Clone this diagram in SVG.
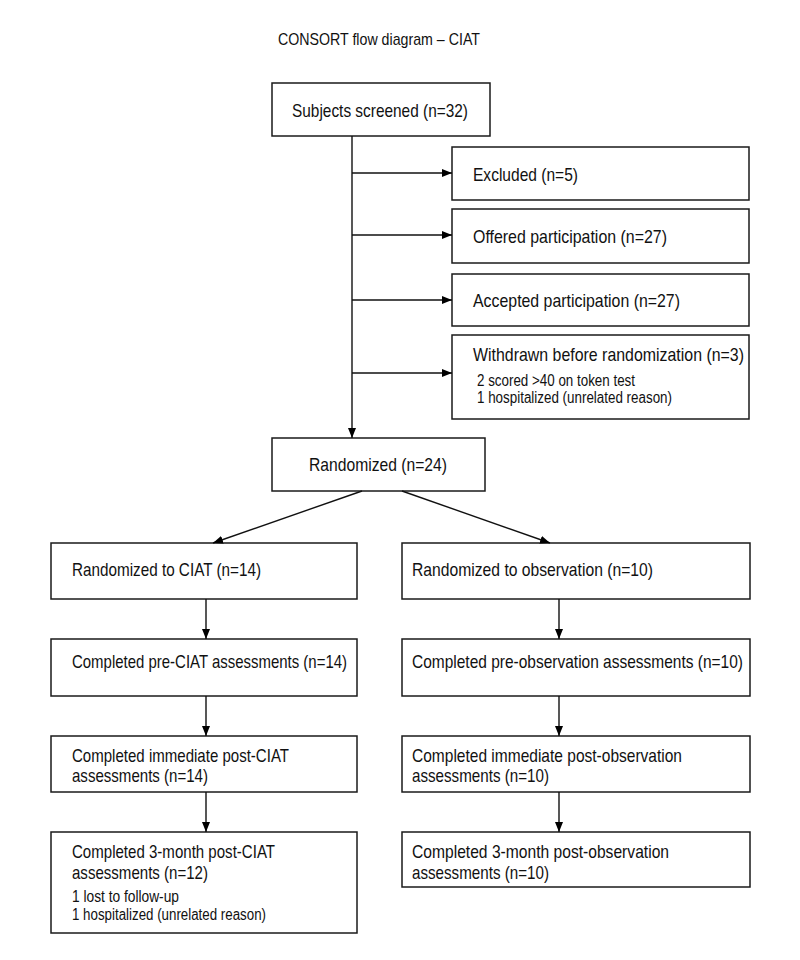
<svg xmlns="http://www.w3.org/2000/svg" width="800" height="960" viewBox="0 0 800 960">
<defs>
<marker id="ah" viewBox="0 0 10 8" refX="10" refY="4" markerWidth="10" markerHeight="8" markerUnits="userSpaceOnUse" orient="auto">
<path d="M0,0 L10,4 L0,8 Z" fill="#000"/>
</marker>
<style>
.box{fill:#fff;stroke:#1a1a1a;stroke-width:1.5}
.t{font-family:"Liberation Sans Narrow","Liberation Sans",Arial,sans-serif;font-size:19px;fill:#111}
.s{font-family:"Liberation Sans Narrow","Liberation Sans",Arial,sans-serif;font-size:16px;fill:#111}
.ttl{font-family:"Liberation Sans Narrow","Liberation Sans",Arial,sans-serif;font-size:17px;fill:#111}
.ln{fill:none;stroke:#111;stroke-width:1.4;marker-end:url(#ah)}
.pl{fill:none;stroke:#111;stroke-width:1.4}
</style>
</defs>
<rect width="800" height="960" fill="#fff"/>
<text class="ttl" x="278" y="45" textLength="202" lengthAdjust="spacingAndGlyphs">CONSORT flow diagram – CIAT</text>

<g id="screened">
<rect class="box" x="272" y="83" width="218" height="53"/>
<text class="t" x="292" y="117" textLength="176" lengthAdjust="spacingAndGlyphs">Subjects screened (n=32)</text>
</g>
<g id="excluded">
<rect class="box" x="452" y="147" width="297" height="53"/>
<text class="t" x="473" y="181" textLength="105" lengthAdjust="spacingAndGlyphs">Excluded (n=5)</text>
</g>
<g id="offered">
<rect class="box" x="452" y="209" width="297" height="54"/>
<text class="t" x="473" y="243" textLength="194" lengthAdjust="spacingAndGlyphs">Offered participation (n=27)</text>
</g>
<g id="accepted">
<rect class="box" x="452" y="274" width="297" height="52"/>
<text class="t" x="473" y="307" textLength="207" lengthAdjust="spacingAndGlyphs">Accepted participation (n=27)</text>
</g>
<g id="withdrawn">
<rect class="box" x="452" y="335" width="297" height="84"/>
<text class="t" x="473" y="361" textLength="271" lengthAdjust="spacingAndGlyphs">Withdrawn before randomization (n=3)</text>
<text class="s" x="477" y="386" textLength="158" lengthAdjust="spacingAndGlyphs">2 scored &gt;40 on token test</text>
<text class="s" x="477" y="403" textLength="195" lengthAdjust="spacingAndGlyphs">1 hospitalized (unrelated reason)</text>
</g>
<g id="randomized">
<rect class="box" x="272" y="438" width="213" height="53"/>
<text class="t" x="309" y="471" textLength="138" lengthAdjust="spacingAndGlyphs">Randomized (n=24)</text>
</g>

<g id="ciat">
<rect class="box" x="51" y="543" width="306" height="56"/>
<text class="t" x="72" y="576" textLength="189" lengthAdjust="spacingAndGlyphs">Randomized to CIAT (n=14)</text>
</g>
<g id="obs">
<rect class="box" x="402" y="543" width="348" height="56"/>
<text class="t" x="412" y="576" textLength="241" lengthAdjust="spacingAndGlyphs">Randomized to observation (n=10)</text>
</g>
<g id="preciat">
<rect class="box" x="51" y="639" width="306" height="57"/>
<text class="t" x="72" y="668" textLength="275" lengthAdjust="spacingAndGlyphs">Completed pre-CIAT assessments (n=14)</text>
</g>
<g id="preobs">
<rect class="box" x="402" y="639" width="348" height="57"/>
<text class="t" x="412" y="668" textLength="331" lengthAdjust="spacingAndGlyphs">Completed pre-observation assessments (n=10)</text>
</g>
<g id="immciat">
<rect class="box" x="51" y="736" width="306" height="56"/>
<text class="t" x="72" y="762" textLength="217" lengthAdjust="spacingAndGlyphs">Completed immediate post-CIAT</text>
<text class="t" x="72" y="782" textLength="136" lengthAdjust="spacingAndGlyphs">assessments (n=14)</text>
</g>
<g id="immobs">
<rect class="box" x="402" y="736" width="348" height="56"/>
<text class="t" x="412" y="762" textLength="270" lengthAdjust="spacingAndGlyphs">Completed immediate post-observation</text>
<text class="t" x="412" y="782" textLength="137" lengthAdjust="spacingAndGlyphs">assessments (n=10)</text>
</g>
<g id="m3ciat">
<rect class="box" x="51" y="832" width="306" height="101"/>
<text class="t" x="72" y="858" textLength="203" lengthAdjust="spacingAndGlyphs">Completed 3-month post-CIAT</text>
<text class="t" x="72" y="879" textLength="136" lengthAdjust="spacingAndGlyphs">assessments (n=12)</text>
<text class="s" x="72" y="902" textLength="107" lengthAdjust="spacingAndGlyphs">1 lost to follow-up</text>
<text class="s" x="72" y="920" textLength="194" lengthAdjust="spacingAndGlyphs">1 hospitalized (unrelated reason)</text>
</g>
<g id="m3obs">
<rect class="box" x="402" y="832" width="348" height="55"/>
<text class="t" x="412" y="858" textLength="257" lengthAdjust="spacingAndGlyphs">Completed 3-month post-observation</text>
<text class="t" x="412" y="879" textLength="137" lengthAdjust="spacingAndGlyphs">assessments (n=10)</text>
</g>

<g id="connectors">
<line class="ln" x1="352" y1="136" x2="352" y2="438"/>
<line class="ln" x1="352" y1="173" x2="452" y2="173"/>
<line class="ln" x1="352" y1="235" x2="452" y2="235"/>
<line class="ln" x1="352" y1="300" x2="452" y2="300"/>
<line class="ln" x1="352" y1="373" x2="452" y2="373"/>
<line class="ln" x1="362" y1="491" x2="213" y2="543"/>
<line class="ln" x1="402" y1="491" x2="550" y2="543"/>
<line class="ln" x1="206" y1="599" x2="206" y2="639"/>
<line class="ln" x1="206" y1="696" x2="206" y2="736"/>
<line class="ln" x1="206" y1="792" x2="206" y2="832"/>
<line class="ln" x1="559" y1="599" x2="559" y2="639"/>
<line class="ln" x1="559" y1="696" x2="559" y2="736"/>
<line class="ln" x1="559" y1="792" x2="559" y2="832"/>
</g>
</svg>
